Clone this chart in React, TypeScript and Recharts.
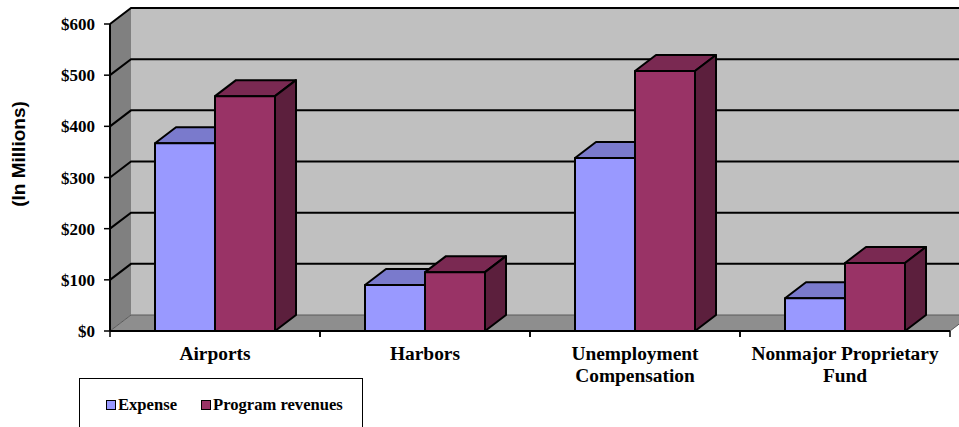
import { Bar, BarChart, CartesianGrid, Legend, ReferenceArea, XAxis, YAxis } from "recharts";

const categories = ["Airports", "Harbors", "Unemployment|Compensation", "Nonmajor Proprietary|Fund"];
const expense = [367, 90, 338, 64];
const programRevenues = [459, 115, 508, 133];
const yTicks = [0, 100, 200, 300, 400, 500, 600];

const chartData = categories.map((name, i) => ({
  name,
  expense: expense[i],
  revenues: programRevenues[i],
}));

const WIDTH = 959;
const HEIGHT = 427;
const MARGIN = { top: 24, right: 9, bottom: 0, left: 0 };
const AXIS_WIDTH = 110;
const AXIS_HEIGHT = 96;
const BAND = (WIDTH - MARGIN.right - AXIS_WIDTH) / categories.length;

// how far the back wall sits behind the front plane
const DX = 21;
const DY = 16;

const serif = "'Liberation Serif', 'Times New Roman', serif";
const sans = "'Liberation Sans', Arial, sans-serif";

const pts = (list: number[][]) => list.map((p) => p.join(",")).join(" ");

// left wall, back wall and floor of the box
function Walls({ x, y, width, height }: any) {
  const bottom = y + height;
  const right = x + width;
  return (
    <g>
      <polygon points={pts([[x + DX, y - DY], [right + DX, y - DY], [right + DX, bottom - DY], [x + DX, bottom - DY]])} fill="#c0c0c0" />
      <polygon points={pts([[x, y], [x + DX, y - DY], [x + DX, bottom - DY], [x, bottom]])} fill="#808080" />
      <polygon points={pts([[x, bottom], [x + DX, bottom - DY], [right + DX, bottom - DY], [right, bottom]])} fill="#8e8e8e" stroke="#5a5a5a" strokeWidth={1} />
      <line x1={x} y1={y} x2={x} y2={bottom} stroke="#000" strokeWidth={2} />
    </g>
  );
}

// every gridline runs along the side wall, then across the back wall
function GridLine({ x1, x2, y1, index }: any) {
  // the floor's back edge is already drawn with the walls
  if (y1 > HEIGHT - AXIS_HEIGHT - 1) return <g key={index} />;
  return (
    <polyline
      key={index}
      points={pts([[x1, y1], [x1 + DX, y1 - DY], [x2 + DX, y1 - DY]])}
      fill="none"
      stroke="#000"
      strokeWidth={2}
    />
  );
}

function Box3D({ x, y, width, height, fill, topFill, sideFill }: any) {
  const bottom = y + height;
  const right = x + width;
  return (
    <g stroke="#000" strokeWidth={2} strokeLinejoin="round">
      <polygon points={pts([[x, y], [x + DX, y - DY], [right + DX, y - DY], [right, y]])} fill={topFill} />
      <polygon points={pts([[right, y], [right + DX, y - DY], [right + DX, bottom - DY], [right, bottom]])} fill={sideFill} />
      <rect x={x} y={y} width={width} height={height} fill={fill} />
    </g>
  );
}

function CategoryTick({ x, y, payload }: any) {
  const lines = String(payload.value).split("|");
  return (
    <g>
      <line x1={x - BAND / 2} x2={x - BAND / 2} y1={y - 8} y2={y - 2} stroke="#000" strokeWidth={1.5} />
      <line x1={x + BAND / 2} x2={x + BAND / 2} y1={y - 8} y2={y - 2} stroke="#000" strokeWidth={1.5} />
      <text textAnchor="middle" fontFamily={serif} fontWeight="bold" fontSize={19.4} fill="#000">
        {lines.map((line, i) => (
          <tspan key={line} x={x} y={y + 21 + i * 22}>
            {line}
          </tspan>
        ))}
      </text>
    </g>
  );
}

function AxisTitle({ viewBox }: any) {
  const cx = viewBox.x + 25;
  const cy = 154;
  return (
    <text
      transform={`rotate(-90 ${cx} ${cy})`}
      x={cx}
      y={cy}
      textAnchor="middle"
      fontFamily={sans}
      fontWeight="bold"
      fontSize={19}
      fill="#000"
    >
      (In Millions)
    </text>
  );
}

function LegendBox({ payload }: any) {
  return (
    <div style={{ display: "flex", paddingLeft: 26, paddingTop: 17, fontFamily: serif, fontWeight: "bold", fontSize: 16.6, lineHeight: "18px", whiteSpace: "nowrap" }}>
      {payload.map((item: any) => (
        <div key={item.value} style={{ display: "flex", alignItems: "center", marginRight: 24 }}>
          <span style={{ width: 8, height: 8, border: "1px solid #000", background: item.color, marginRight: 2 }} />
          {item.value}
        </div>
      ))}
    </div>
  );
}

export default function App() {
  return (
    <div style={{ position: "absolute", left: 0, top: 0, width: WIDTH, height: HEIGHT, overflow: "hidden", background: "#fff" }}>
      <BarChart width={WIDTH} height={HEIGHT} data={chartData} margin={MARGIN} barCategoryGap={45} barGap={0}>
        <ReferenceArea y1={0} y2={600} ifOverflow="visible" shape={Walls} zIndex={-200} />
        <CartesianGrid vertical={false} horizontal={GridLine as any} syncWithTicks />
        <XAxis
          dataKey="name"
          interval={0}
          tickLine={false}
          axisLine={{ stroke: "#000", strokeWidth: 2 }}
          tick={CategoryTick}
          height={AXIS_HEIGHT}
        />
        <YAxis
          width={AXIS_WIDTH}
          domain={[0, 600]}
          ticks={yTicks}
          interval={0}
          tickSize={6}
          tickMargin={9}
          tickLine={{ stroke: "#000", strokeWidth: 1.5 }}
          axisLine={false}
          tickFormatter={(v: number) => `$${v}`}
          tick={{ fontFamily: serif, fontWeight: "bold", fontSize: 17, fill: "#000" }}
          label={AxisTitle}
        />
        <Legend
          verticalAlign="middle"
          content={LegendBox}
          wrapperStyle={{ left: 79, top: 378, width: 284, height: 70, bottom: "auto", right: "auto", border: "1px solid #000", background: "#fff", boxSizing: "border-box" }}
        />
        <Bar
          dataKey="expense"
          name="Expense"
          fill="#9999ff"
          barSize={60}
          isAnimationActive={false}
          shape={(p: any) => <Box3D {...p} topFill="#7a7acc" sideFill="#5c5c99" />}
        />
        <Bar
          dataKey="revenues"
          name="Program revenues"
          fill="#993366"
          barSize={60}
          isAnimationActive={false}
          shape={(p: any) => <Box3D {...p} topFill="#7a2952" sideFill="#5c1f3d" />}
        />
      </BarChart>
    </div>
  );
}
